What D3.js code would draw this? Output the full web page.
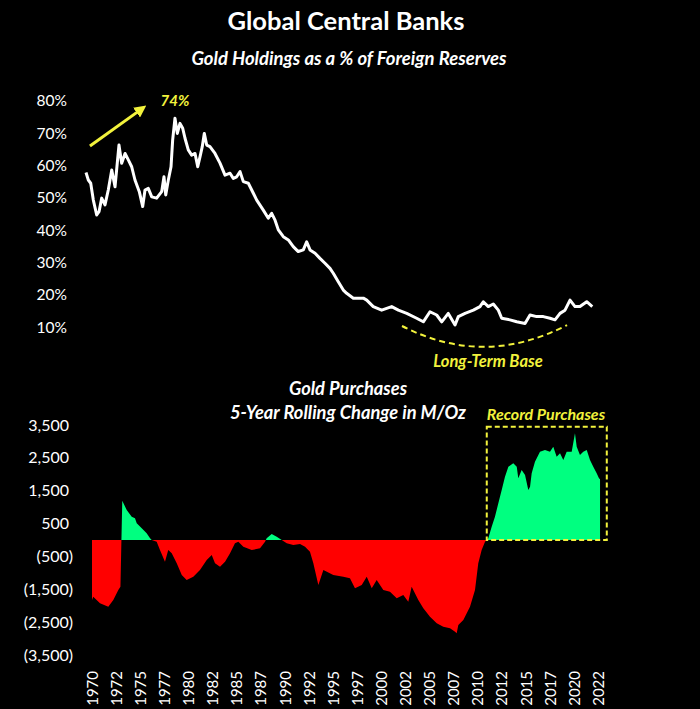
<!DOCTYPE html>
<html><head><meta charset="utf-8">
<script src="https://cdn.jsdelivr.net/npm/d3@7"></script>
<style>html,body{margin:0;background:#000;} svg{display:block;}</style>
</head><body><svg id="c" width="700" height="709"></svg>
<script>
// ---- Data ----
const topYears = [1970.0,1970.24,1970.49,1970.76,1971.11,1971.35,1971.63,1971.97,1972.31,1972.67,1973.01,1973.42,1973.70,1974.05,1974.39,1974.74,1975.08,1975.53,1975.88,1976.12,1976.46,1976.82,1977.33,1977.85,1978.09,1978.27,1978.54,1978.82,1978.99,1979.23,1979.47,1979.75,1980.03,1980.27,1980.61,1980.96,1981.31,1981.59,1981.83,1982.06,1982.27,1982.52,1982.86,1983.38,1983.90,1984.42,1984.94,1985.28,1985.63,1985.98,1986.32,1986.84,1987.36,1987.71,1988.39,1988.91,1989.26,1989.61,1989.95,1990.47,1990.99,1991.50,1992.02,1992.54,1992.89,1993.24,1993.76,1994.27,1994.79,1995.31,1995.65,1996.17,1996.69,1997.04,1997.73,1998.77,1999.12,1999.80,2000.67,2001.71,2002.40,2003.27,2004.30,2004.99,2005.68,2006.38,2006.90,2007.58,2008.28,2008.62,2009.32,2010.18,2010.87,2011.21,2011.73,2012.25,2012.77,2013.12,2013.98,2014.68,2015.54,2016.06,2016.75,2017.44,2018.13,2018.65,2019.17,2019.69,2020.21,2020.73,2021.24,2021.94,2022.52];
const topPct = [57.8,55.5,54.5,49.3,44.7,45.7,49.9,47.8,52.4,58.6,53.4,66.3,60.7,63.7,61.7,59.6,55.5,51.9,47.3,52.4,52.9,50.3,49.9,51.9,56.5,50.9,55.5,59.6,67.9,74.6,69.9,73.0,71.5,68.4,64.8,63.2,63.7,59.6,62.7,65.8,69.9,66.3,65.8,63.7,60.7,57.0,57.6,56.0,56.5,58.1,55.0,54.5,51.4,49.3,46.2,43.7,45.2,43.1,40.1,38.0,37.0,34.9,33.4,33.9,36.4,33.9,32.9,31.3,29.8,28.2,26.7,24.1,21.5,20.5,19.0,19.0,18.4,16.4,15.3,16.4,15.3,14.3,12.8,11.7,14.8,13.8,11.7,14.3,10.7,13.3,14.3,15.3,16.4,17.9,16.4,17.2,15.3,12.8,12.3,11.7,11.2,13.8,13.3,13.3,12.8,12.3,14.3,15.3,18.4,16.4,16.4,17.9,16.4];

const buyYears = [1970.0,1970.13,1970.83,1971.69,1972.21,1972.73,1972.95,1973.14,1973.60,1974.12,1974.46,1974.64,1975.16,1975.67,1976.02,1976.19,1976.71,1977.05,1977.57,1977.91,1978.27,1978.79,1979.31,1979.82,1980.51,1981.20,1981.90,1982.42,1982.76,1983.28,1983.80,1984.32,1984.83,1985.18,1985.70,1986.57,1987.43,1987.95,1988.12,1988.64,1989.16,1989.68,1990.20,1990.88,1991.58,1992.10,1992.61,1992.96,1993.48,1994.0,1995.03,1996.07,1996.76,1997.28,1997.98,1998.50,1999.02,1999.53,2000.22,2000.91,2001.61,2002.29,2002.81,2003.16,2003.85,2004.37,2005.06,2005.76,2006.44,2007.14,2007.66,2007.83,2008.0,2008.52,2009.21,2009.73,2010.07,2010.42,2010.77,2010.94,2011.11,2011.46,2011.80,2012.15,2012.50,2012.84,2013.19,2013.70,2014.06,2014.22,2014.57,2014.92,2015.26,2015.44,2015.61,2015.95,2016.47,2016.99,2017.51,2017.85,2018.20,2018.55,2018.89,2019.24,2019.76,2020.10,2020.28,2020.62,2020.96,2021.32,2021.66,2022.00,2022.35,2022.59,2022.70];
const buyVals = [-1826,-1725,-1927,-2029,-1826,-1522,-1420,1196,913,709,660,508,356,204,52,0,-52,-304,-660,-304,-406,-710,-1065,-1217,-1116,-913,-609,-456,-710,-811,-660,-406,-101,-52,-203,-304,-253,-52,52,183,101,0,-101,-152,-122,-203,-355,-710,-1369,-913,-1065,-1116,-1166,-1470,-1369,-1116,-1470,-1217,-1522,-1572,-1775,-1674,-1877,-1420,-1826,-2080,-2333,-2536,-2637,-2688,-2789,-2840,-2587,-2435,-2029,-1522,-710,-304,-52,0,52,405,709,1117,1522,1926,2231,2334,2231,1878,2130,1978,1522,1622,2030,2383,2687,2739,2687,2839,2535,2638,2435,2687,2687,3246,2839,2587,2687,2739,2435,2231,2030,1878,1850];

const pctTicks = [10,20,30,40,50,60,70,80];
const buyTicks = [3500,2500,1500,500,-500,-1500,-2500,-3500];
const yearTicks = [1970,1972.5,1975,1977.5,1980,1982.5,1985,1987.5,1990,1992.5,1995,1997.5,2000,2002.5,2005,2007.5,2010,2012.5,2015,2017.5,2020,2022.5];

// ---- Drawing ----
const FONT = "Lato, 'Open Sans', 'DejaVu Sans', sans-serif";
const YEL = "#f2f23c";
const svg = d3.select("#c").style("font-family", FONT);
svg.append("rect").attr("width",700).attr("height",709).attr("fill","#000");

const xTop = d3.scaleLinear().domain([1970, 2022.8]).range([86, 595]);
const yTop = d3.scaleLinear().domain([10, 80]).range([327.3, 100.7]);
const xBot = d3.scaleLinear().domain([1970, 2022.8]).range([92, 601]);
const yBot = d3.scaleLinear().domain([-3500, 3500]).range([655, 425]);

// Titles
svg.append("text").attr("x",346).attr("y",30).attr("text-anchor","middle")
  .attr("fill","#fff").attr("font-weight","bold").attr("font-size",25.5).text("Global Central Banks");
svg.append("text").attr("x",349).attr("y",65).attr("text-anchor","middle")
  .attr("fill","#fff").attr("font-weight","bold").attr("font-style","italic").attr("font-size",18.5)
  .text("Gold Holdings as a % of Foreign Reserves");

// Top y axis
const axTop = svg.append("g").attr("transform","translate(70,0)")
  .call(d3.axisLeft(yTop).tickValues(pctTicks).tickFormat(d => d + "%").tickSize(0).tickPadding(3));
axTop.select(".domain").remove();
axTop.selectAll("text").attr("fill","#fff").attr("font-size",15.5).attr("font-family",FONT);

// Top line
const topData = topYears.map((t,i) => [t, topPct[i]]);
svg.append("path").datum(topData)
  .attr("fill","none").attr("stroke","#fff").attr("stroke-width",3).attr("stroke-linejoin","round")
  .attr("d", d3.line().x(d => xTop(d[0])).y(d => yTop(d[1])));

// Arrow + 74%
const defs = svg.append("defs");
defs.append("marker").attr("id","ah").attr("viewBox","0 0 10 10").attr("refX",5).attr("refY",5)
  .attr("markerWidth",4).attr("markerHeight",4).attr("orient","auto")
  .append("path").attr("d","M0,0L10,5L0,10z").attr("fill",YEL);
svg.append("line")
  .attr("x1", xTop(1970.41)).attr("y1", yTop(66.0))
  .attr("x2", xTop(1975.75)).attr("y2", yTop(77.4))
  .attr("stroke",YEL).attr("stroke-width",3).attr("marker-end","url(#ah)");
svg.append("text").attr("x", xTop(1979.23)).attr("y", 106).attr("text-anchor","middle")
  .attr("fill",YEL).attr("font-weight","bold").attr("font-style","italic").attr("font-size",15).text("74%");

// Long-term base arc
const a0 = [xTop(2002.78), yTop(10.4)], c0 = [xTop(2011.3), yTop(-2.6)], a1 = [xTop(2019.9), yTop(10.7)];
svg.append("path").attr("d", `M${a0}Q${c0} ${a1}`).attr("fill","none")
  .attr("stroke",YEL).attr("stroke-width",2).attr("stroke-dasharray","6,4");
svg.append("text").attr("x", 488).attr("y", 367).attr("text-anchor","middle")
  .attr("fill",YEL).attr("font-weight","bold").attr("font-style","italic").attr("font-size",16.5).text("Long-Term Base");

// Bottom titles
svg.append("text").attr("x",348).attr("y",395).attr("text-anchor","middle")
  .attr("fill","#fff").attr("font-weight","bold").attr("font-style","italic").attr("font-size",18.3).text("Gold Purchases");
svg.append("text").attr("x",348).attr("y",419).attr("text-anchor","middle")
  .attr("fill","#fff").attr("font-weight","bold").attr("font-style","italic").attr("font-size",18.3).text("5-Year Rolling Change in M/Oz");

// Bottom y axis
const fmtBuy = d => d < 0 ? "(" + d3.format(",")(-d) + ")" : d3.format(",")(d);
const axBot = svg.append("g").attr("transform","translate(73,0)")
  .call(d3.axisLeft(yBot).tickValues(buyTicks).tickFormat(fmtBuy).tickSize(0).tickPadding(0));
axBot.select(".domain").remove();
axBot.selectAll("text").attr("fill","#fff").attr("font-size",16).attr("font-family",FONT)
  .attr("dx", d => d > 0 ? -4 : 0);

// Bottom area, split by sign via clip paths
const buyData = buyYears.map((t,i) => [t, buyVals[i]]);
const area = d3.area().x(d => xBot(d[0])).y0(yBot(0)).y1(d => yBot(d[1]));
defs.append("clipPath").attr("id","pos").append("rect")
  .attr("x",0).attr("y",0).attr("width",700).attr("height",yBot(0));
defs.append("clipPath").attr("id","neg").append("rect")
  .attr("x",0).attr("y",yBot(0)).attr("width",700).attr("height",709 - yBot(0));
svg.append("path").datum(buyData).attr("d",area).attr("fill","#00ff80").attr("clip-path","url(#pos)");
svg.append("path").datum(buyData).attr("d",area).attr("fill","#ff0000").attr("clip-path","url(#neg)");

// Record purchases box
svg.append("rect")
  .attr("x", xBot(2010.95)).attr("y", yBot(3450))
  .attr("width", xBot(2023.4) - xBot(2010.95)).attr("height", yBot(0) - yBot(3450))
  .attr("fill","none").attr("stroke",YEL).attr("stroke-width",2).attr("stroke-dasharray","5,3");
svg.append("text").attr("x", 546).attr("y", 420).attr("text-anchor","middle")
  .attr("fill",YEL).attr("font-weight","bold").attr("font-style","italic").attr("font-size",16).text("Record Purchases");

// X axis
const axX = svg.append("g").attr("transform","translate(0,667)")
  .call(d3.axisBottom(xBot).tickValues(yearTicks).tickFormat(d => String(Math.floor(d))).tickSize(0));
axX.select(".domain").remove();
axX.selectAll("text").attr("fill","#fff").attr("font-size",15).attr("font-family",FONT)
  .attr("transform","rotate(-90)").attr("x",-4).attr("y",0).attr("dy","0.35em").attr("text-anchor","end");
</script></body></html>
